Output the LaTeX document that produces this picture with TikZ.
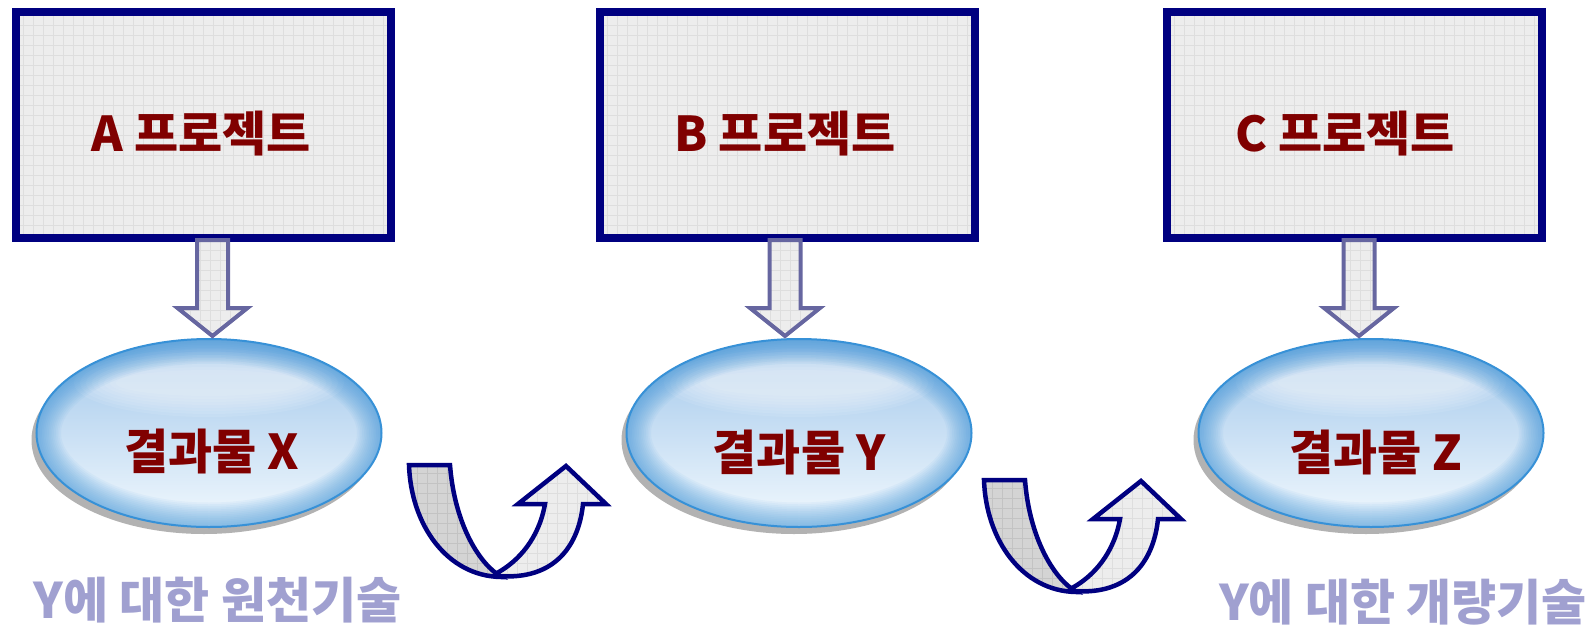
\documentclass[tikz,border=0pt]{standalone}
\usepackage{fontspec}
\setmainfont{Noto Sans CJK KR}
\usetikzlibrary{shapes.geometric,calc}
\definecolor{navy}{RGB}{0,0,128}
\definecolor{darkred}{RGB}{128,0,0}
\definecolor{arrowline}{RGB}{102,102,160}
\definecolor{boxfill}{RGB}{237,237,237}
\definecolor{darkfill}{RGB}{212,212,212}
\definecolor{gridc}{RGB}{222,222,222}
\definecolor{gridd}{RGB}{195,195,195}
\definecolor{lav}{RGB}{160,160,208}
\definecolor{blueedge}{RGB}{55,145,215}
\definecolor{bluetop}{RGB}{160,198,234}
\definecolor{bluemid}{RGB}{200,224,244}
\definecolor{bluebot}{RGB}{242,249,254}
\begin{document}
\begin{tikzpicture}[x=1pt,y=-1pt,
  gridfill/.style={path picture={\draw[#1, line width=0.5pt] (path picture bounding box.south west) grid[step=10pt] (path picture bounding box.north east);}},
  projbox/.style={draw=navy, line width=8pt, fill=boxfill, gridfill=gridc, minimum width=375pt, minimum height=226pt, inner sep=0pt},
  projtext/.style={text=darkred, font=\fontsize{48}{48}\selectfont\bfseries, inner sep=0pt},
  result/.style={ellipse, minimum width=345pt, minimum height=188pt, inner sep=0pt, draw=blueedge, line width=2pt,
     top color=bluetop, middle color=bluemid, bottom color=bluebot,
     preaction={fill=gray!60, transform canvas={shift={(-5pt,-7pt)}}},
     path picture={
       \foreach \i in {0,...,7}{
         \fill[white, opacity=0.09] ($(path picture bounding box.north)+(0,44)$) ellipse [x radius=135-6*\i, y radius=34-3*\i];}
       \foreach \i in {1,...,14}{
         \draw[blueedge, opacity=0.055, line width=\i*3.5pt] (path picture bounding box.center) ellipse [x radius=172.5, y radius=94];}
     }},
  blockarrow/.style={draw=arrowline, line width=4pt, fill=boxfill, gridfill=gridc, line join=miter},
  bandL/.style={draw=navy, line width=4.5pt, fill=darkfill, gridfill=gridd},
  bandR/.style={draw=navy, line width=4.5pt, fill=boxfill, gridfill=gridc, line join=miter},
  note/.style={text=lav, font=\fontsize{49}{49}\selectfont\bfseries, inner sep=0pt}]
\useasboundingbox (0,0) rectangle (1594,626);

% project boxes
\node[projbox] (A) at (203.5,125) {};
\node[projbox] (B) at (787,125) {};
\node[projbox] (C) at (1354,125) {};
\node[projtext] (At) at (201,134) {A 프로젝트};
\node[projtext] (Bt) at (785,134) {B 프로젝트};
\node[projtext] (Ct) at (1345,134) {C 프로젝트};

% results
\node[result] (X) at (209,433) {};
\node[result] (Y) at (799,433) {};
\node[result] (Z) at (1371,433) {};
\node[projtext] (Xt) at (212,451) {결과물 X};
\node[projtext] (Yt) at (799,452) {결과물 Y};
\node[projtext] (Zt) at (1376,452) {결과물 Z};

% down block arrows
\foreach \s/\t/\dx in {A/X/9, B/Y/-2, C/Z/5}{
  \draw[blockarrow] let \p1=($(\s.south)+(\dx,0)$), \p2=(\t.north) in
    (\x1-15.5pt,\y1+2pt) -- (\x1-15.5pt,\y2+30pt) -- (\x1-35pt,\y2+30pt) -- (\x1,\y2+2pt)
    -- (\x1+35pt,\y2+30pt) -- (\x1+15.5pt,\y2+30pt) -- (\x1+15.5pt,\y1+2pt) -- cycle;
}

% curved U-turn arrows
\coordinate (u1) at (407,463);
\coordinate (u2) at (982,478);
\foreach \u in {u1,u2}{
\begin{scope}[shift={(\u)}]
  \draw[bandL] (2,2) -- (43,2) .. controls (47,55) and (68,95) .. (90,111)
     -- (94,114) .. controls (40,113) and (4,62) .. (2,2) -- cycle;
  \draw[bandR] (90,113) .. controls (150,118) and (172,80) .. (176,41)
     -- (199,41) -- (159,3) -- (111,41) -- (138,41)
     .. controls (132,75) and (112,98) .. (90,110) -- cycle;
\end{scope}
}

% bottom notes
\node[note] (n1) at (217.5,600) {Y에 대한 원천기술};
\node[note] (n2) at (1403,602) {Y에 대한 개량기술};
\end{tikzpicture}
\end{document}
